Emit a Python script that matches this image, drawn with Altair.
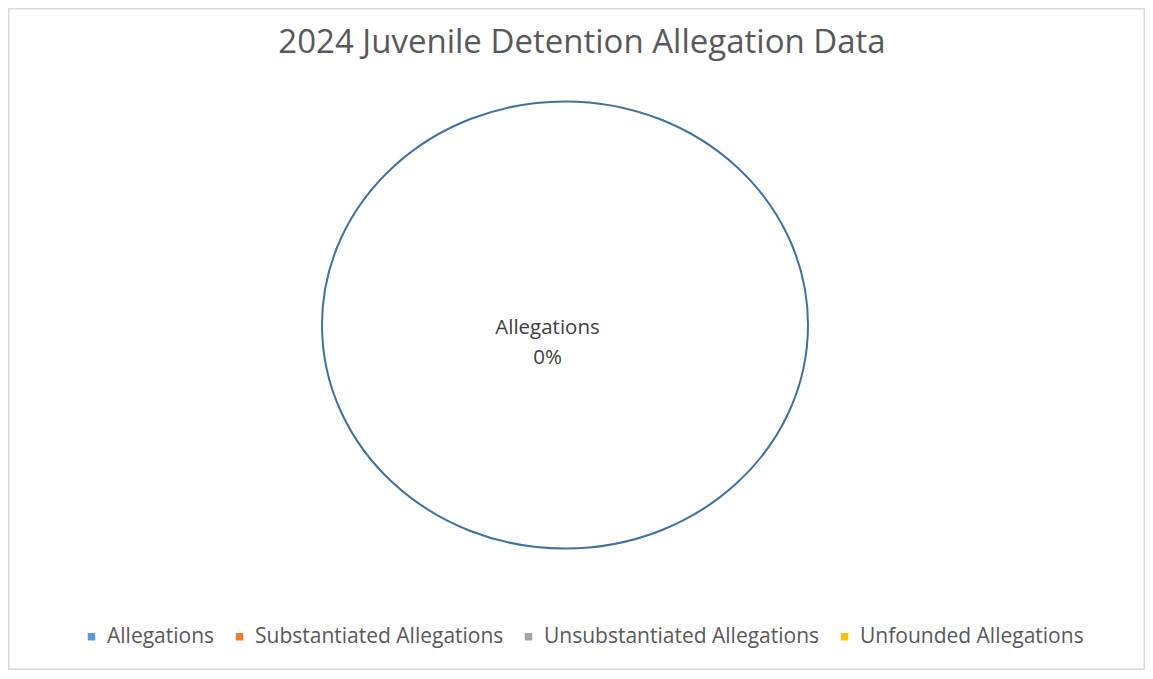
import altair as alt
import pandas as pd

title_text = "2024 Juvenile Detention Allegation Data"
categories = ["Allegations", "Substantiated Allegations", "Unsubstantiated Allegations", "Unfounded Allegations"]
values = [0, 0, 0, 0]
colors = ["#5B9BD5", "#ED7D31", "#A5A5A5", "#FFC000"]

W, H = 1137, 662
FONT = "Open Sans"

df = pd.DataFrame({"category": categories, "value": values})
total = sum(values)
pct = (values[0] / total) if total else 0
label_df = pd.DataFrame({"label": [f"{categories[0]}\n{pct:.0%}"]})
title_df = pd.DataFrame({"t": [title_text]})
frame_df = pd.DataFrame({"k": [0]})

cx, cy = 557, 317
rx, ry = 243, 223.5
ellipse_path = f"M -1 0 A 1 {ry/rx:.4f} 0 1 1 1 0 A 1 {ry/rx:.4f} 0 1 1 -1 0 Z"

frame = alt.Chart(frame_df).mark_rect(fill=None, stroke="#D9D9D9", strokeWidth=1.5).encode(
    x=alt.value(0.75), x2=alt.value(W - 0.75), y=alt.value(0.75), y2=alt.value(H - 0.75)
)

pie = alt.Chart(df).mark_arc(outerRadius=rx).encode(
    theta=alt.Theta("value:Q", scale=alt.Scale(domain=[0, 1]), stack=True),
    color=alt.Color(
        "category:N",
        sort=categories,
        scale=alt.Scale(domain=categories, range=colors),
        legend=alt.Legend(
            title=None,
            orient="none",
            legendX=73,
            legendY=618,
            direction="horizontal",
            columns=4,
            columnPadding=14,
            symbolType="square",
            symbolSize=56,
            symbolStrokeWidth=0,
            labelOffset=5,
            labelFont=FONT,
            labelFontSize=21,
            labelColor="#595959",
            labelLimit=400,
            padding=0,
        ),
    ),
    x=alt.value(cx),
    y=alt.value(cy),
)

ellipse = alt.Chart(frame_df).mark_point(
    shape=ellipse_path, filled=False, stroke="#41719C", strokeWidth=2, opacity=1
).encode(
    x=alt.value(cx), y=alt.value(cy), size=alt.value((2 * rx) ** 2)
)

label = alt.Chart(label_df).mark_text(
    font=FONT, fontSize=20.5, color="#404040", align="center", baseline="alphabetic",
    lineBreak="\n", lineHeight=30
).encode(
    x=alt.value(539.5), y=alt.value(326), text="label:N"
)

title = alt.Chart(title_df).mark_text(
    font=FONT, fontSize=33, color="#595959", align="center", baseline="alphabetic"
).encode(
    x=alt.value(574), y=alt.value(45), text="t:N"
)

chart = alt.layer(frame, pie, ellipse, label, title).properties(
    width=W, height=H, padding=0, autosize=alt.AutoSizeParams(type="none")
).configure_view(stroke=None)

chart.save("out.html", embed_options={"renderer": "svg", "actions": False})
